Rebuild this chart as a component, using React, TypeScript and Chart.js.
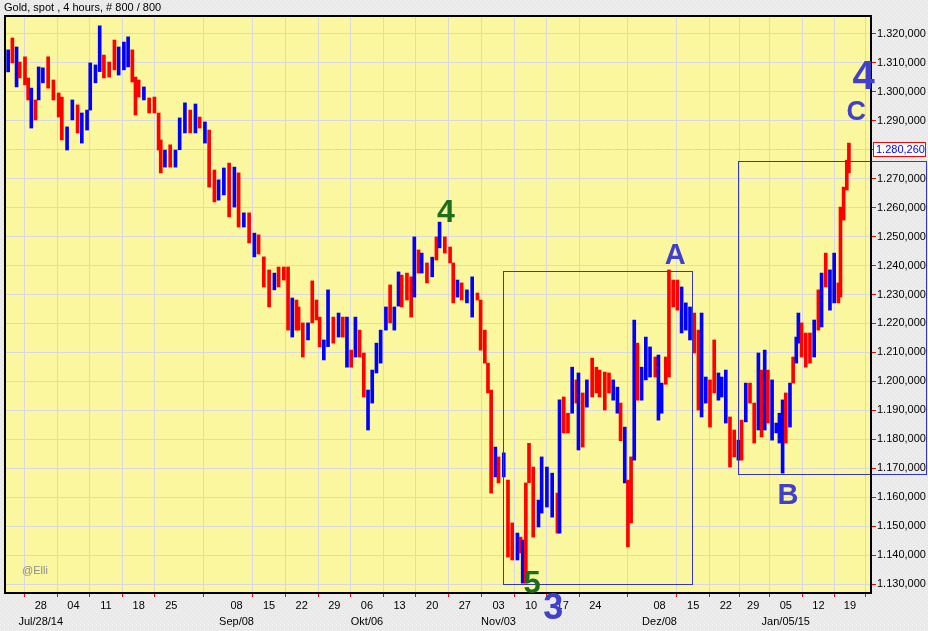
import React, { useEffect, useRef } from 'react';
import { Chart, registerables } from 'chart.js';

Chart.register(...registerables);

// ---- data (bar index of 4-hour bars, high / low of each column, direction) ----
const barIndex = [0,4,8,11,16,19,22,26,29,33,38,43,48,51,56,61,66,70,75,78,83,87,91,96,101,105,110,114,118,121,124,129,134,139,143,145,149,154,159,163,168,173,178,182,187,191,196,200,205,210,215,219,224,229,234,238,243,248,253,257,262,266,270,274,276,280,285,289,293,296,300,304,309,314,318,322,326,330,334,338,342,346,350,354,359,363,367,371,374,379,383,386,390,393,398,403,407,410,415,420,423,427,431,436,441,446,449,453,456,459,463,466,471,475,479,484,487,489,492,495,499,504,507,512,517,522,524,528,532,536,540,542,546,550,555,559,562,567,571,575,579,582,586,589,592,595,598,602,606,610,615,618,621,625,628,632,636,640,644,648,652,656,659,663,667,671,675,678,682,686,690,694,697,701,705,709,713,716,719,722,726,730,733,736,739,743,746,749,751,754,758,762,766,770,773,777,781,785,789,791,794,797,799];
const highs = [1314.5,1318.6,1315.5,1310.3,1312.1,1304.8,1301.3,1297.2,1308.6,1308.3,1312.1,1304.1,1299.6,1298.2,1287.9,1297.2,1295.5,1292.7,1293.7,1310.0,1309.3,1322.8,1312.7,1310.3,1317.9,1315.5,1317.2,1319.0,1314.5,1305.1,1304.1,1301.7,1297.9,1298.2,1292.7,1283.4,1279.9,1281.7,1279.9,1291.0,1296.2,1293.7,1295.8,1291.3,1289.6,1286.8,1273.0,1269.6,1273.7,1275.4,1274.0,1272.0,1258.2,1258.2,1251.2,1250.6,1243.0,1238.5,1237.4,1239.5,1239.5,1239.5,1228.8,1228.1,1225.7,1220.2,1220.2,1234.7,1228.1,1222.2,1214.3,1231.6,1222.2,1223.6,1222.2,1222.2,1210.8,1222.2,1217.7,1209.8,1197.0,1203.9,1213.2,1217.7,1225.7,1233.3,1225.7,1237.8,1236.7,1237.4,1236.1,1249.9,1245.4,1244.3,1240.9,1242.9,1249.9,1255.0,1249.9,1246.4,1240.9,1235.0,1234.0,1231.6,1236.1,1230.5,1228.1,1217.7,1206.3,1197.0,1177.3,1173.9,1175.3,1165.9,1151.1,1147.6,1146.2,1145.2,1164.9,1178.6,1170.4,1159.0,1173.9,1170.4,1168.3,1161.4,1193.6,1194.6,1189.0,1204.9,1200.5,1202.9,1196.0,1200.5,1208.0,1204.9,1203.9,1203.2,1202.9,1200.5,1198.0,1192.5,1184.2,1165.9,1173.9,1221.2,1213.2,1204.9,1215.3,1211.9,1208.4,1209.1,1199.4,1208.4,1238.5,1235.0,1235.0,1232.6,1227.1,1225.7,1223.6,1217.7,1223.6,1201.5,1200.5,1214.3,1202.9,1201.5,1203.9,1187.7,1183.2,1179.7,1186.6,1199.4,1199.4,1192.5,1209.8,1203.9,1210.8,1203.9,1200.5,1185.6,1189.0,1193.6,1196.0,1199.4,1208.4,1215.3,1223.6,1220.2,1216.7,1216.7,1221.2,1231.6,1237.4,1244.3,1238.5,1244.3,1234.0,1260.2,1267.1,1276.4,1282.3];
const lows = [1306.9,1310.0,1301.7,1304.8,1302.4,1297.2,1287.5,1290.3,1297.2,1303.1,1301.3,1297.2,1291.3,1283.4,1279.9,1290.3,1285.8,1282.3,1286.8,1293.7,1303.1,1307.0,1304.8,1305.1,1307.6,1305.8,1307.6,1308.6,1303.4,1292.0,1298.2,1297.2,1292.7,1292.7,1279.9,1272.0,1274.0,1274.0,1274.0,1280.0,1285.8,1285.8,1285.8,1287.5,1282.3,1267.1,1262.0,1262.6,1264.4,1256.8,1260.2,1253.3,1253.3,1247.8,1243.0,1244.0,1232.6,1225.7,1231.6,1232.6,1235.0,1217.7,1215.3,1217.7,1217.7,1208.4,1214.3,1220.2,1221.2,1211.9,1207.4,1212.0,1213.2,1215.3,1215.3,1204.9,1204.9,1208.4,1208.4,1194.6,1183.2,1192.5,1202.9,1206.3,1217.7,1220.2,1217.7,1226.0,1225.7,1228.1,1222.2,1229.1,1237.4,1237.4,1234.0,1236.1,1241.9,1246.1,1244.3,1240.9,1227.1,1229.1,1228.1,1227.1,1222.2,1228.1,1210.8,1206.3,1196.0,1161.4,1167.0,1164.9,1167.0,1139.3,1138.3,1138.3,1140.7,1130.3,1130.3,1165.0,1146.2,1149.7,1154.5,1156.6,1153.1,1147.6,1147.6,1182.2,1182.2,1189.0,1192.5,1176.3,1177.3,1191.1,1194.6,1196.0,1194.6,1190.1,1196.0,1193.5,1189.0,1179.5,1164.9,1142.8,1151.1,1172.8,1193.5,1193.5,1200.5,1201.5,1201.5,1186.6,1189.0,1199.0,1201.5,1225.7,1224.6,1216.7,1217.7,1214.3,1209.8,1190.1,1187.7,1192.5,1184.2,1196.0,1193.5,1194.6,1185.6,1170.4,1173.9,1172.8,1172.8,1186.0,1192.5,1178.7,1183.2,1180.8,1183.2,1185.6,1179.7,1182.2,1178.7,1168.3,1178.7,1184.2,1199.4,1206.3,1213.2,1208.4,1204.9,1206.3,1208.4,1217.7,1218.8,1232.6,1224.6,1227.1,1227.1,1229.1,1255.7,1266.1,1272.0];
const barDir = 'BRBRRRBRBBRRRRBBRBBBBBRRRBBBRRRBRRRRBRBBBRBRBRRBBRBRBRBRRRBRRRBRRRBRRRBBRBRBRBRRBBBBBRBBRRRBRBRBRBRRRBRBBRRRRRBRBRRBRBRRRBBBBRBRRBRBRBRRRRRBBRBRRBRBBBRBBRRRRBBBRRBBRRBBBRRBRBRRBRBRBBBBRBRBBRRRBRBRBB';

// ---- axes ----
const tickIndex = [31, 62, 93, 124, 155, 217, 248, 279, 310, 341, 372, 403, 434, 466, 497, 527, 558, 619, 651, 682, 708, 739, 770, 800];
const tickDay = ['28','04','11','18','25','08','15','22','29','06','13','20','27','03','10','17','24','08','15','22','29','05','12','19'];
const tickMonth = ['Jul/28/14','','','','','Sep/08','','','','Okt/06','','','','Nov/03','','','','Dez/08','','','','Jan/05/15','',''];
const priceTicks = [1130,1140,1150,1160,1170,1180,1190,1200,1210,1220,1230,1240,1250,1260,1270,1280,1290,1300,1310,1320];
const lastPrice = 1280.26;

// ---- annotations ----
const boxStart = [470, 694];
const boxEnd = [650, 872];
const boxLow = [1130, 1168];
const boxHigh = [1238.1, 1276.1];
const labelText = ['4', '5', '3', 'A', 'B', 'C', '4'];
const labelX = [416, 498, 518, 634, 741, 806, 813];
const labelY = [1258.2, 1130, 1121.5, 1243.3, 1160.4, 1293.0, 1304.8];
const labelSize = [32, 31, 36, 29, 29, 27, 40];
const labelColor = ['#1c6e1c', '#1c6e1c', '#4040cc', '#4040cc', '#4040cc', '#4040cc', '#4040cc'];

const FONT = "'Liberation Sans', Arial, sans-serif";

function fmtPrice(v: number, dec = '000') {
  const i = Math.floor(v);
  return `${Math.floor(i / 1000)}.${String(i % 1000).padStart(3, '0')},${dec}`;
}

function makePattern(ctx: CanvasRenderingContext2D, base: string, dot: string) {
  const c = document.createElement('canvas');
  c.width = 4; c.height = 4;
  const g = c.getContext('2d')!;
  g.fillStyle = base; g.fillRect(0, 0, 4, 4);
  g.fillStyle = dot; g.fillRect(0, 0, 1, 1); g.fillRect(2, 2, 1, 1);
  return ctx.createPattern(c, 'repeat') || base;
}

const bgPlugin = {
  id: 'bg',
  beforeDraw(chart: any) {
    const { ctx, chartArea: a, width, height } = chart;
    ctx.save();
    ctx.fillStyle = makePattern(ctx, '#e9e9e9', '#f6f6f6');
    ctx.fillRect(0, 0, width, height);
    ctx.fillStyle = makePattern(ctx, '#fbf8a0', '#f6f39a');
    ctx.fillRect(a.left, a.top, a.right - a.left, a.bottom - a.top);
    ctx.fillStyle = '#000';
    ctx.font = `11px ${FONT}`;
    ctx.textBaseline = 'middle';
    ctx.textAlign = 'left';
    ctx.fillText('Gold, spot , 4 hours, # 800 / 800', 4, 8);
    ctx.restore();
  },
  beforeDatasetsDraw(chart: any) {
    const { ctx, chartArea: a, scales } = chart;
    const y = Math.round(scales.y.getPixelForValue(lastPrice)) + 0.5;
    ctx.save();
    ctx.strokeStyle = '#d2d2da';
    ctx.lineWidth = 1;
    ctx.setLineDash([6, 4]);
    ctx.beginPath();
    ctx.moveTo(a.left, y);
    ctx.lineTo(a.right, y);
    ctx.stroke();
    ctx.restore();
  },
  afterDatasetsDraw(chart: any) {
    const { ctx, chartArea: a, scales } = chart;
    ctx.save();
    ctx.strokeStyle = '#3535c8';
    ctx.lineWidth = 1;
    for (let i = 0; i < boxStart.length; i++) {
      const x1 = Math.round(scales.x.getPixelForValue(boxStart[i])) + 0.5;
      const x2 = Math.round(scales.x.getPixelForValue(boxEnd[i])) + 0.5;
      const y1 = Math.round(scales.y.getPixelForValue(boxHigh[i])) + 0.5;
      const y2 = Math.round(scales.y.getPixelForValue(boxLow[i])) + 0.5;
      ctx.strokeRect(x1, y1, x2 - x1, y2 - y1);
    }
    ctx.strokeStyle = '#000';
    ctx.lineWidth = 2;
    ctx.strokeRect(a.left, a.top, a.right - a.left, a.bottom - a.top);
    ctx.restore();
  },
  afterDraw(chart: any) {
    const { ctx, chartArea: a, scales } = chart;
    ctx.save();
    // last price label
    const y = Math.round(scales.y.getPixelForValue(lastPrice));
    ctx.fillStyle = '#ffffff';
    ctx.fillRect(a.right + 2, y - 7, 53, 15);
    ctx.strokeStyle = '#ff0000';
    ctx.lineWidth = 1;
    ctx.strokeRect(a.right + 2.5, y - 6.5, 52, 14);
    ctx.fillStyle = '#0000ff';
    ctx.font = `11px ${FONT}`;
    ctx.textAlign = 'left';
    ctx.textBaseline = 'middle';
    ctx.fillText(fmtPrice(lastPrice, '260'), a.right + 5, y + 1);
    // watermark
    ctx.fillStyle = '#8c8c8c';
    ctx.fillText('@Elli', 22, 571);
    // wave labels
    ctx.textAlign = 'center';
    for (let i = 0; i < labelText.length; i++) {
      ctx.fillStyle = labelColor[i];
      ctx.font = `bold ${labelSize[i]}px ${FONT}`;
      ctx.fillText(labelText[i], scales.x.getPixelForValue(labelX[i]), scales.y.getPixelForValue(labelY[i]));
    }
    ctx.restore();
  },
};

export default function App() {
  const ref = useRef<HTMLCanvasElement | null>(null);
  useEffect(() => {
    document.body.style.margin = '0';
    const canvas = ref.current!;
    const chart = new Chart(canvas, {
      type: 'bar',
      data: {
        datasets: [{
          data: barIndex.map((x, i) => ({ x, y: [lows[i], highs[i]] })) as any,
          backgroundColor: barIndex.map((_, i) => (barDir[i] === 'B' ? '#0000ff' : '#ff0000')),
          borderWidth: 0,
          barThickness: 3,
          grouped: false,
        } as any],
      },
      options: {
        responsive: false,
        animation: false,
        devicePixelRatio: 1,
        layout: { padding: { left: 5, top: 16, right: 0, bottom: 0 } },
        plugins: { legend: { display: false }, tooltip: { enabled: false }, title: { display: false } },
        scales: {
          x: {
            type: 'linear',
            min: -3,
            max: 820,
            offset: false,
            afterBuildTicks: (s: any) => { s.ticks = tickIndex.map((v) => ({ value: v })); },
            afterFit: (s: any) => { s.height = 38; },
            ticks: {
              autoSkip: false,
              maxRotation: 0,
              minRotation: 0,
              padding: 1,
              color: '#000',
              font: { family: FONT, size: 11, lineHeight: 1.45 },
              callback: (v: any) => {
                const k = tickIndex.indexOf(Number(v));
                return [tickDay[k], tickMonth[k]];
              },
            },
            grid: { color: '#d8d8e0', lineWidth: 1, tickColor: '#ff0000', tickLength: 4, drawTicks: true },
            border: { display: false },
          },
          y: {
            position: 'right',
            min: 1126.9,
            max: 1326.2,
            afterBuildTicks: (s: any) => { s.ticks = priceTicks.map((v) => ({ value: v })); },
            afterFit: (s: any) => { s.width = 57; },
            ticks: {
              padding: 1,
              color: '#000',
              font: { family: FONT, size: 11 },
              callback: (v: any) => fmtPrice(Number(v)),
            },
            grid: { color: '#d8d8e0', lineWidth: 1, tickColor: '#ff0000', tickLength: 5, drawTicks: true },
            border: { display: false },
          },
        },
      } as any,
      plugins: [bgPlugin],
    });
    return () => chart.destroy();
  }, []);
  return (
    <div style={{ position: 'fixed', left: 0, top: 0, width: 928, height: 631 }}>
      <canvas ref={ref} width={928} height={631} style={{ width: 928, height: 631, display: 'block' }} />
    </div>
  );
}
